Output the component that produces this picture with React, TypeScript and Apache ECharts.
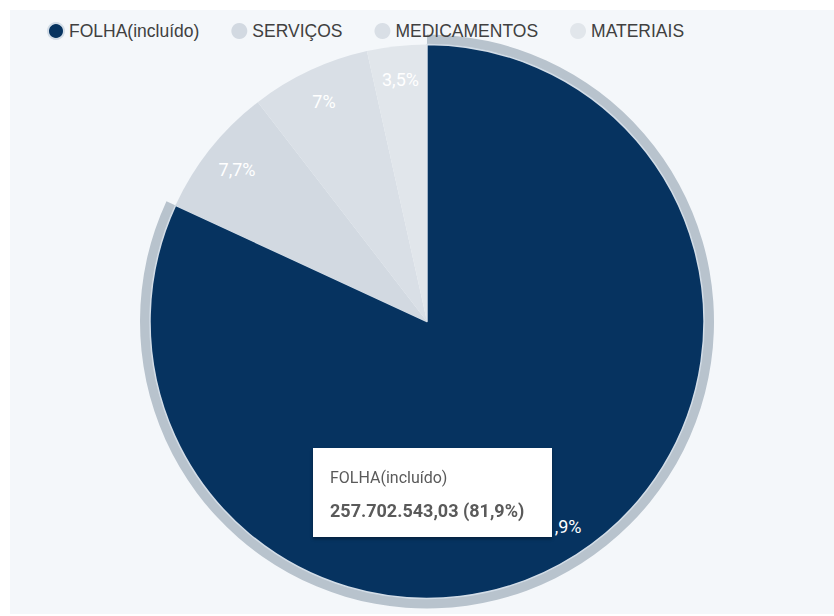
import React, { useEffect, useRef } from "react";
import * as echarts from "echarts";

const categories = ["FOLHA(incluído)", "SERVIÇOS", "MEDICAMENTOS", "MATERIAIS"];
const values = [257702543.03, 24100000, 21950000, 10950000];
const sliceColors = ["#063360", "#d2d9e1", "#d9dfe6", "#e1e6eb"];
const ringColor = "#b8c3cd";
const highlightedIndex = 0;

const total = values.reduce((a, b) => a + b, 0);

function formatBR(n: number): string {
  const [intPart, dec] = n.toFixed(2).split(".");
  const withDots = intPart.replace(/\B(?=(\d{3})+(?!\d))/g, ".");
  return withDots + "," + dec;
}

function pctText(v: number): string {
  const p = parseFloat(((v / total) * 100).toFixed(1));
  return String(p).replace(".", ",");
}

export default function App() {
  const ref = useRef<HTMLDivElement>(null);

  useEffect(() => {
    if (!ref.current) return;
    const chart = echarts.init(ref.current, null, { renderer: "svg" });
    const cx = 417;
    const cy = 311.5;
    const R = 277;

    const mainData = categories.map((name, i) => ({
      name,
      value: values[i],
      itemStyle:
        i === highlightedIndex
          ? { color: sliceColors[i], borderColor: "#d3dde7", borderWidth: 1.5 }
          : { color: sliceColors[i] },
    }));
    const ringData = categories.map((name, i) => ({
      name,
      value: values[i],
      itemStyle: { color: i === highlightedIndex ? ringColor : "rgba(0,0,0,0)" },
    }));
    const labelData = categories.map((name, i) => ({
      name,
      value: values[i],
      itemStyle: { color: "rgba(0,0,0,0)" },
    }));

    chart.setOption({
      animation: false,
      backgroundColor: "#f4f7fa",
      legend: {
        left: 32,
        top: 7,
        icon: "circle",
        itemWidth: 16,
        itemHeight: 16,
        itemGap: 32,
        data: categories,
        textStyle: {
          fontFamily: "Liberation Sans",
          fontSize: 17.5,
          color: "#404040",
        },
      },
      tooltip: {
        trigger: "item",
        triggerOn: "none",
        alwaysShowContent: true,
        position: [303, 438],
        padding: 0,
        borderWidth: 0,
        backgroundColor: "#fff",
        transitionDuration: 0,
        extraCssText: "border-radius:0;box-shadow:0 2px 3px rgba(0,0,0,0.35);",
        formatter: (p: any) =>
          `<div style="width:205px;padding:19px 17px 15px 17px;font-family:Roboto;color:#5a5a5a;">` +
          `<div style="font-size:16px;line-height:22px;">${p.name}</div>` +
          `<div style="font-size:18px;line-height:22px;font-weight:bold;margin-top:11px;">${formatBR(
            p.value
          )} (${pctText(p.value)}%)</div></div>`,
      },
      series: [
        {
          name: "main",
          type: "pie",
          center: [cx, cy],
          radius: [0, R],
          startAngle: 90,
          clockwise: true,
          z: 2,
          label: { show: false },
          labelLine: { show: false },
          emphasis: { scale: false },
          data: mainData,
        },
        {
          name: "ring",
          type: "pie",
          center: [cx, cy],
          radius: [0, R + 10],
          startAngle: 90,
          clockwise: true,
          z: 1,
          silent: true,
          tooltip: { show: false },
          label: { show: false },
          labelLine: { show: false },
          emphasis: { disabled: true },
          data: ringData,
        },
        {
          name: "labels",
          type: "pie",
          center: [cx, cy],
          radius: [203, R],
          startAngle: 90,
          clockwise: true,
          z: 3,
          silent: true,
          tooltip: { show: false },
          labelLine: { show: false },
          emphasis: { disabled: true },
          label: {
            show: true,
            position: "inside",
            color: "#fff",
            fontFamily: "Roboto",
            fontSize: 18,
            formatter: (p: any) => pctText(p.value) + "%",
          },
          data: labelData,
        },
      ],
    });

    chart.dispatchAction({ type: "showTip", seriesIndex: 0, dataIndex: highlightedIndex });

    return () => chart.dispose();
  }, []);

  return (
    <div
      ref={ref}
      style={{ position: "absolute", left: 10, top: 10, width: 824, height: 604 }}
    />
  );
}
